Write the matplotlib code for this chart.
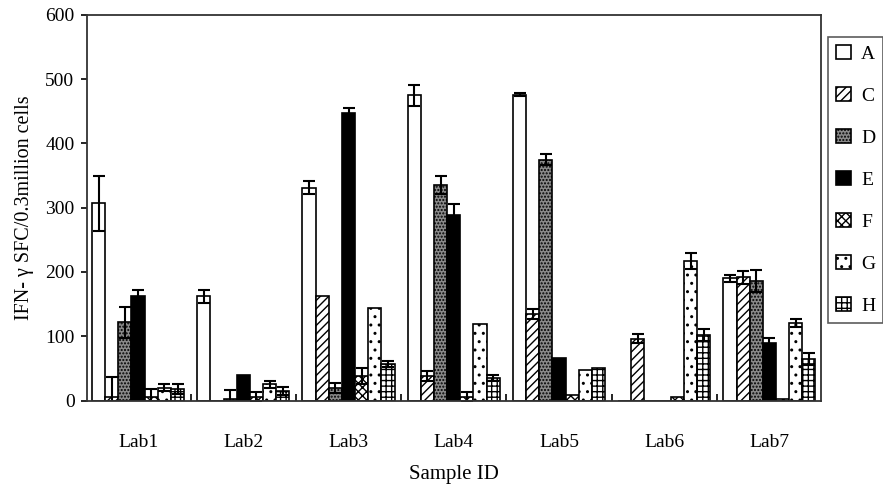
import numpy as np
import matplotlib
matplotlib.use("Agg")
import matplotlib.pyplot as plt

plt.rcParams['font.family'] = ['Liberation Serif', 'DejaVu Serif']
plt.rcParams['hatch.linewidth'] = 1.0

labs = ["Lab1", "Lab2", "Lab3", "Lab4", "Lab5", "Lab6", "Lab7"]
series = ["A", "C", "D", "E", "F", "G", "H"]

A = [307, 162, 331, 475, 476, 0, 190]
C = [6, 0, 163, 38, 135, 96, 192]
D = [122, 2, 20, 335, 375, 0, 186]
E = [162, 40, 448, 288, 66, 0, 90]
F = [5, 5, 38, 5, 8, 6, 2]
G = [20, 25, 144, 119, 48, 217, 121]
H = [18, 15, 57, 35, 50, 102, 65]

A_err = [43, 10, 10, 16, 2, 0, 6]
C_err = [31, 0, 0, 8, 8, 7, 10]
D_err = [24, 14, 8, 14, 8, 0, 17]
E_err = [10, 0, 8, 18, 0, 0, 8]
F_err = [13, 8, 12, 8, 0, 0, 0]
G_err = [5, 6, 0, 0, 0, 12, 6]
H_err = [8, 6, 5, 5, 0, 10, 9]

values = [A, C, D, E, F, G, H]
errors = [A_err, C_err, D_err, E_err, F_err, G_err, H_err]

styles = [
    dict(facecolor="white", hatch=None),
    dict(facecolor="white", hatch="////"),
    dict(facecolor="#8a8a8a", hatch="....."),
    dict(facecolor="black", hatch=None),
    dict(facecolor="white", hatch="xxxx"),
    dict(facecolor="white", hatch=".."),
    dict(facecolor="white", hatch="+++"),
]

fig = plt.figure(figsize=(8.83, 4.86), dpi=100)
ax = fig.add_axes([87 / 883, 1 - 400.5 / 486, (821 - 87) / 883, (400.5 - 15) / 486])

x = np.arange(1, len(labs) + 1)
w = 0.125
for i, (s, vals, errs, st) in enumerate(zip(series, values, errors, styles)):
    pos = x + (i - 3) * w
    ax.bar(pos, vals, width=w, edgecolor="black", linewidth=1.2, label=s, **st)
    errs = np.array(errs)
    m = errs > 0
    ax.errorbar(pos[m], np.array(vals)[m], yerr=errs[m], fmt="none",
                ecolor="black", elinewidth=1.5, capsize=4.5, capthick=1.5)

ax.set_xlim(0.515, 7.49)
ax.set_ylim(0, 600)
ax.set_yticks(np.arange(0, 601, 100))
ax.set_xticks(x)
ax.set_xticklabels(labs)
ax.set_xticks(np.arange(1.5, 7.0, 1.0), minor=True)
ax.tick_params(axis="x", which="major", length=0, labelsize=14, pad=24)
ax.tick_params(axis="x", which="minor", direction="in", length=5, width=1.2)
ax.tick_params(axis="y", direction="out", length=4, width=1.2, labelsize=14, pad=5)
for sp in ax.spines.values():
    sp.set_linewidth(1.3)
    sp.set_color("#333333")

ax.set_xlabel("Sample ID", fontsize=15, labelpad=10)
ax.set_ylabel("IFN- γ SFC/0.3million cells", fontsize=14.5, labelpad=8)

leg = fig.legend(loc="upper left", bbox_to_anchor=(828 / 883, 1 - 37 / 486),
                 fontsize=14, frameon=True, fancybox=False, handlelength=0.8,
                 handleheight=0.75, handletextpad=0.5, labelspacing=1.24,
                 borderpad=0.4, borderaxespad=0)
leg.get_frame().set_edgecolor("#333333")
leg.get_frame().set_linewidth(1.2)

fig.savefig("out.png", dpi=100)
